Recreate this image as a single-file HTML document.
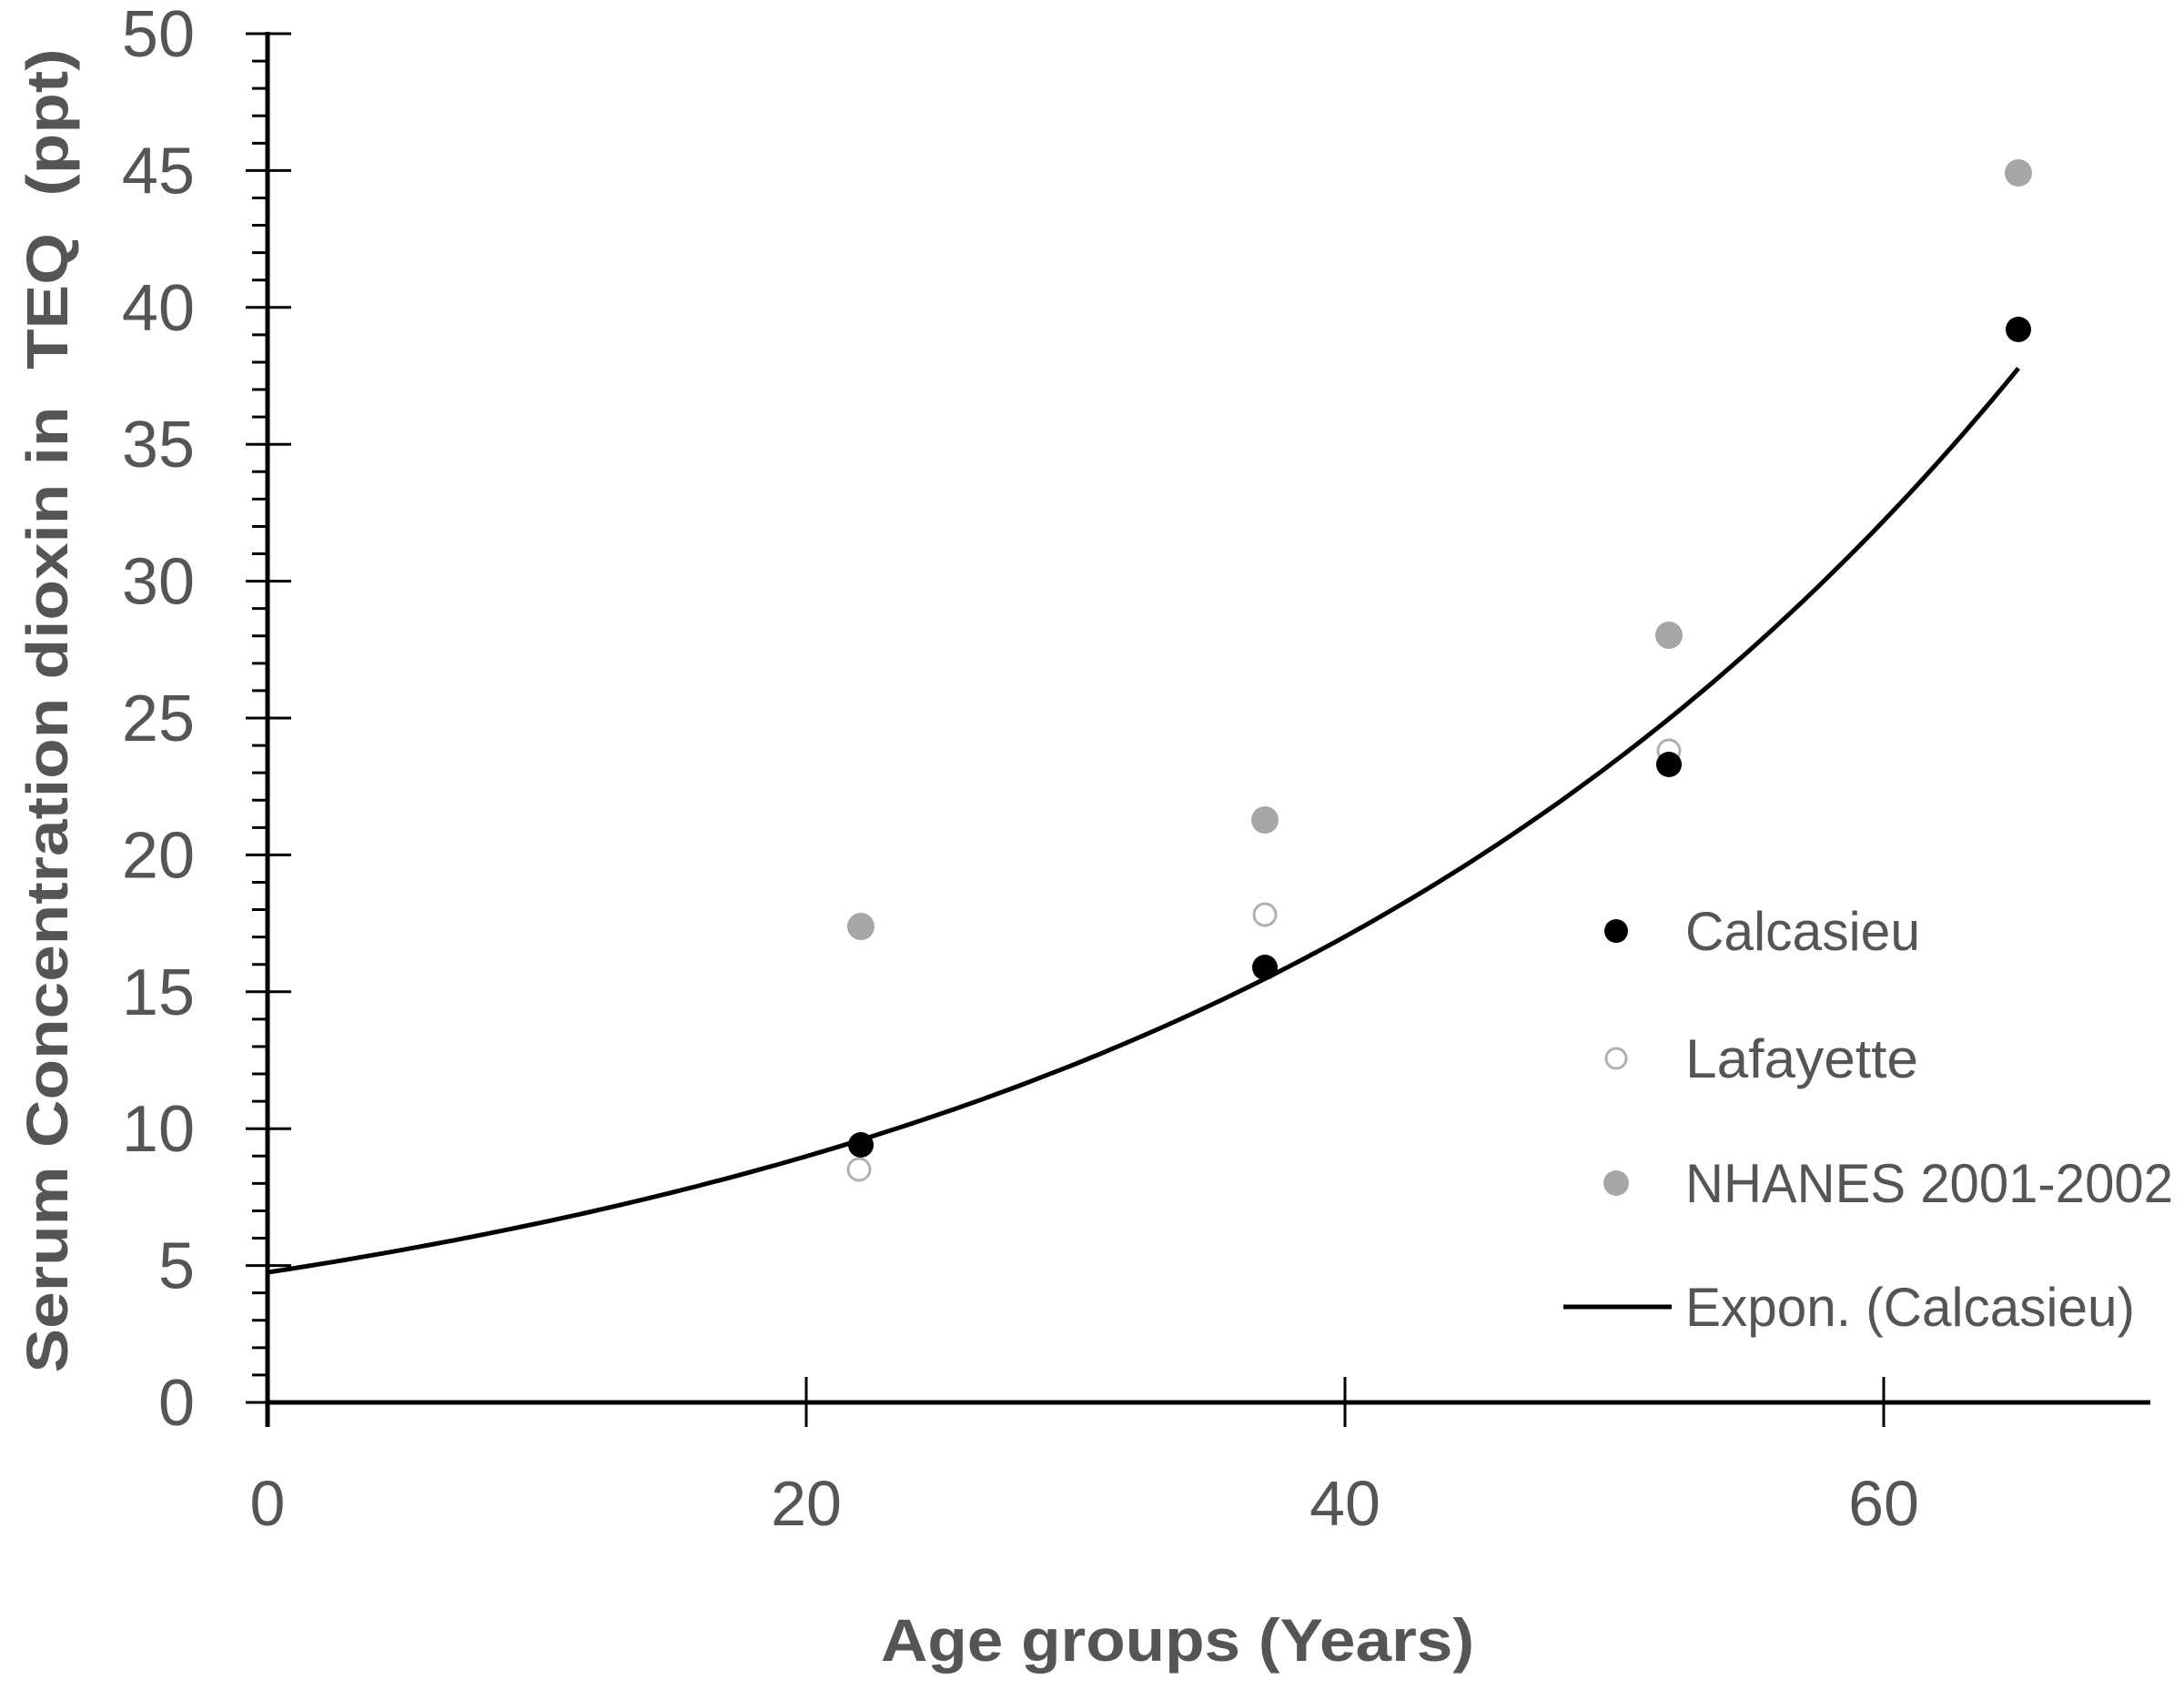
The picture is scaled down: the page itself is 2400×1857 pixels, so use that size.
<!DOCTYPE html>
<html><head><meta charset="utf-8"><style>html,body{margin:0;padding:0;background:#fff}svg{display:block}</style></head>
<body>
<svg width="2400" height="1857" viewBox="0 0 2400 1857" xmlns="http://www.w3.org/2000/svg">
<g stroke="#000" stroke-width="5">
<line x1="294" y1="35" x2="294" y2="1568"/>
<line x1="294" y1="1541" x2="2363" y2="1541"/>
</g>
<g id="yt" stroke="#000"></g>
<g font-family="'Liberation Sans',sans-serif" font-size="72" fill="#555" text-anchor="end" id="yl"></g>
<g font-family="'Liberation Sans',sans-serif" font-size="70" fill="#555" text-anchor="middle">
<text x="294" y="1676">0</text><text x="886" y="1676">20</text><text x="1478" y="1676">40</text><text x="2070" y="1676">60</text>
</g>
<g stroke="#000" stroke-width="3">
<line x1="886" y1="1513" x2="886" y2="1568"/><line x1="1478" y1="1513" x2="1478" y2="1568"/><line x1="2070" y1="1513" x2="2070" y2="1568"/>
</g>
<path id="curve" fill="none" stroke="#000" stroke-width="5"/>
<g fill="#a6a6a6">
<circle cx="946" cy="1018" r="15"/><circle cx="1390" cy="901" r="15"/><circle cx="1834" cy="698" r="15"/><circle cx="2218" cy="190" r="15"/>
</g>
<g fill="#fff" stroke="#b0b0b0" stroke-width="3">
<circle cx="944" cy="1285" r="12"/><circle cx="1390" cy="1005" r="12"/><circle cx="1834" cy="825" r="12"/>
</g>
<g fill="#000">
<circle cx="946" cy="1258" r="14"/><circle cx="1390" cy="1063" r="14"/><circle cx="1834" cy="840" r="14"/><circle cx="2218" cy="362" r="14"/>
</g>
<circle cx="1776" cy="1023" r="13" fill="#000"/>
<circle cx="1776" cy="1163" r="11" fill="#fff" stroke="#b0b0b0" stroke-width="3"/>
<circle cx="1776" cy="1300" r="14" fill="#a6a6a6"/>
<line x1="1718" y1="1436" x2="1837" y2="1436" stroke="#000" stroke-width="5"/>
<g font-family="'Liberation Sans',sans-serif" font-size="60" fill="#555">
<text x="1852" y="1044" textLength="258" lengthAdjust="spacingAndGlyphs">Calcasieu</text>
<text x="1852" y="1184" textLength="256" lengthAdjust="spacingAndGlyphs">Lafayette</text>
<text x="1852" y="1321" textLength="536" lengthAdjust="spacingAndGlyphs">NHANES 2001-2002</text>
<text x="1852" y="1457" textLength="494" lengthAdjust="spacingAndGlyphs">Expon. (Calcasieu)</text>
</g>
<text x="1294" y="1825" font-family="'Liberation Sans',sans-serif" font-weight="bold" font-size="66" fill="#555" text-anchor="middle" textLength="652" lengthAdjust="spacingAndGlyphs">Age groups (Years)</text>
<text transform="translate(74,781) rotate(-90)" font-family="'Liberation Sans',sans-serif" font-weight="bold" font-size="64" fill="#555" text-anchor="middle" textLength="1455" lengthAdjust="spacingAndGlyphs">Serum Concentration dioxin in&#160; TEQ&#160; (ppt)</text>
<script>
var yt=document.getElementById('yt'),yl=document.getElementById('yl'),ns='http://www.w3.org/2000/svg';
function Y(v){return 1541-v*30.08}
for(var v=0;v<=50;v++){var l=document.createElementNS(ns,'line');var y=Y(v);
if(v%5==0){l.setAttribute('x1',270);l.setAttribute('x2',320);l.setAttribute('stroke-width',3);
var t=document.createElementNS(ns,'text');t.setAttribute('x',214);t.setAttribute('y',y+25);t.textContent=v;yl.appendChild(t);}
else{l.setAttribute('x1',277);l.setAttribute('x2',294);l.setAttribute('stroke-width',3);}
l.setAttribute('y1',y);l.setAttribute('y2',y);yt.appendChild(l);}
var d='';for(var x=0;x<=65;x+=0.5){var px=294+x*29.6,py=Y(4.75*Math.exp(0.0319*x));d+=(x==0?'M':'L')+px.toFixed(1)+' '+py.toFixed(1);}
document.getElementById('curve').setAttribute('d',d);
</script>
</svg>
</body></html>
